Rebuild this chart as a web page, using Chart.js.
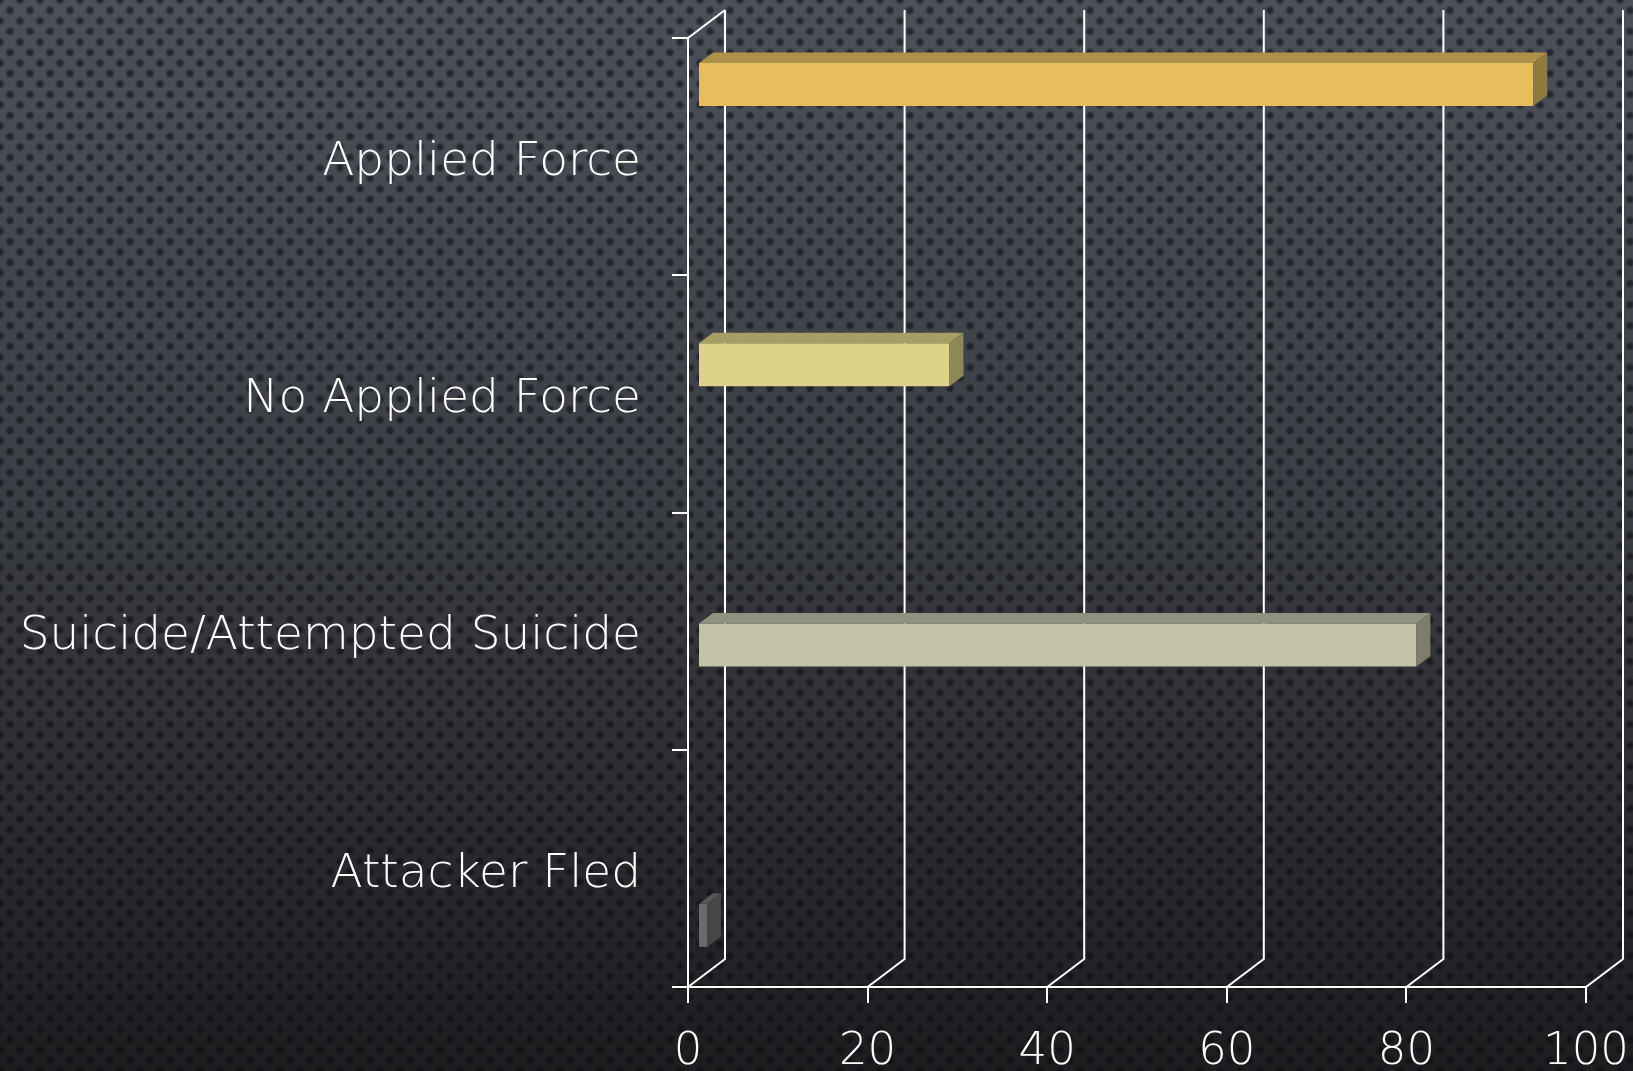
<!DOCTYPE html>
<html>
<head>
<meta charset="utf-8">
<script src="https://cdn.jsdelivr.net/npm/chart.js@4/dist/chart.umd.min.js"></script>
<style>
  html, body { margin: 0; padding: 0; }
  body {
    width: 1633px; height: 1071px; overflow: hidden;
    background-color: #34363c;
    background-image:
      radial-gradient(circle, rgba(8,10,14,0.62) 0, rgba(8,10,14,0.5) 2.5px, rgba(8,10,14,0) 5px),
      radial-gradient(circle, rgba(8,10,14,0.62) 0, rgba(8,10,14,0.5) 2.5px, rgba(8,10,14,0) 5px),
      linear-gradient(to bottom, #4c5059 0%, #3b3e44 45%, #1d1d20 100%);
    background-size: 20px 21px, 20px 21px, 100% 100%;
    background-position: 0 0, 10px 10.5px, 0 0;
  }
  #wrap { position: absolute; left: 0; top: -8px; width: 1633px; height: 1079px; }
</style>
</head>
<body>
<div id="wrap"><canvas id="chart"></canvas></div>
<script>
// values (percent)
const categories = ['Applied Force', 'No Applied Force', 'Suicide/Attempted Suicide', 'Attacker Fled'];
const values = [93, 28, 80, 1];
const xMin = 0, xMax = 100, xStep = 20;

// bar faces: front / top / side
const frontColors = ['#e6be5e', '#ddd386', '#c2c2a6', '#6b6b6b'];
const topColors = ['#ad9148', '#a69e64', '#909180', '#575757'];
const sideColors = ['#8f7a40', '#8e8856', '#7c7d6c', '#474747'];

const WALL = { dx: 37, dy: 28 };       // depth of the back wall
const BAR_SHIFT = { dx: 10, dy: 7.6 }; // bars sit a bit behind the front plane
const BAR_DEPTH = { dx: 14, dy: 10.5 };

const threeD = {
    id: 'threeD',
    beforeDatasetsDraw(chart) {
        const ctx = chart.ctx;
        const { top, bottom, left } = chart.chartArea;
        const x = chart.scales.x;
        ctx.save();
        ctx.strokeStyle = '#ffffff';
        ctx.lineWidth = 2;
        ctx.beginPath();
        x.ticks.forEach(t => {
            const px = x.getPixelForValue(t.value);
            ctx.moveTo(px, bottom);
            ctx.lineTo(px + WALL.dx, bottom - WALL.dy);
            ctx.lineTo(px + WALL.dx, top - WALL.dy);
        });
        ctx.moveTo(left, top);
        ctx.lineTo(left + WALL.dx, top - WALL.dy);
        ctx.stroke();
        ctx.restore();

        ctx.save();
        ctx.translate(BAR_SHIFT.dx, -BAR_SHIFT.dy);
    },
    afterDatasetsDraw(chart) {
        chart.ctx.restore();
        const ctx = chart.ctx;
        ctx.save();
        ctx.translate(BAR_SHIFT.dx, -BAR_SHIFT.dy);
        chart.data.datasets.forEach((ds, i) => {
            const meta = chart.getDatasetMeta(i);
            meta.data.forEach((bar, j) => {
                if (ds.data[j] === null) return;
                const p = bar.getProps(['x', 'y', 'base', 'height'], true);
                const y0 = p.y - p.height / 2, y1 = p.y + p.height / 2;
                ctx.fillStyle = topColors[i];
                ctx.beginPath();
                ctx.moveTo(p.base, y0);
                ctx.lineTo(p.x, y0);
                ctx.lineTo(p.x + BAR_DEPTH.dx, y0 - BAR_DEPTH.dy);
                ctx.lineTo(p.base + BAR_DEPTH.dx, y0 - BAR_DEPTH.dy);
                ctx.closePath();
                ctx.fill();
                ctx.fillStyle = sideColors[i];
                ctx.beginPath();
                ctx.moveTo(p.x, y0);
                ctx.lineTo(p.x + BAR_DEPTH.dx, y0 - BAR_DEPTH.dy);
                ctx.lineTo(p.x + BAR_DEPTH.dx, y1 - BAR_DEPTH.dy);
                ctx.lineTo(p.x, y1);
                ctx.closePath();
                ctx.fill();
            });
        });
        ctx.restore();
    }
};

const datasets = categories.map((name, i) => ({
    label: name,
    data: categories.map((_, j) => (j === i ? values[i] : null)),
    backgroundColor: frontColors[i],
    borderWidth: 0,
    categoryPercentage: 0.726,
    barPercentage: 1
}));

const family = '"DejaVu Sans", Lato, sans-serif';

new Chart(document.getElementById('chart'), {
    type: 'bar',
    data: { labels: categories, datasets: datasets },
    options: {
        indexAxis: 'y',
        responsive: true,
        maintainAspectRatio: false,
        animation: false,
        devicePixelRatio: 1,
        clip: false,
        layout: { padding: { top: 46, right: 47, left: 0, bottom: 0 } },
        plugins: { legend: { display: false }, tooltip: { enabled: false } },
        scales: {
            x: {
                min: xMin, max: xMax,
                ticks: { stepSize: xStep, color: '#ffffff', padding: 3,
                         font: { family: family, size: 45, weight: 200, lineHeight: 2.05 } },
                grid: { drawOnChartArea: false, color: '#ffffff', lineWidth: 2, tickLength: 16 },
                border: { display: true, color: '#ffffff', width: 2 },
                afterFit(scale) { scale.height = 84; }
            },
            y: {
                // empty first line nudges the text a little below the band centre
                ticks: { color: '#ffffff', padding: 31,
                         callback: (v, i) => ['', categories[i]],
                         font: { family: family, size: 47, weight: 200, lineHeight: 0.26 } },
                grid: { drawOnChartArea: false, color: '#ffffff', lineWidth: 2, tickLength: 16, offset: true },
                border: { display: true, color: '#ffffff', width: 2 },
                afterFit(scale) { scale.width = 688; }
            }
        }
    },
    plugins: [threeD]
});
</script>
</body>
</html>
